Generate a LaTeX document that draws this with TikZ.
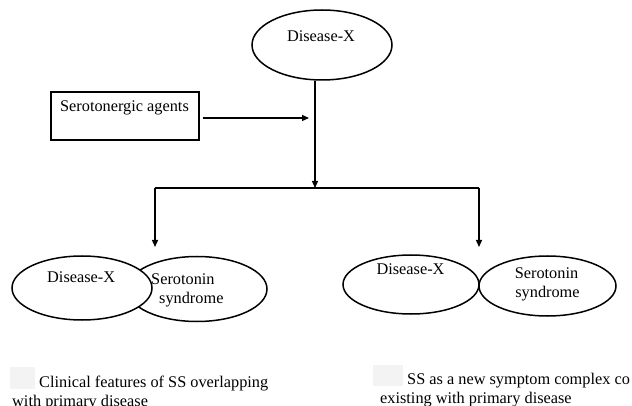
\documentclass[tikz,border=0pt]{standalone}
\usepackage{fontspec}
\setmainfont{Liberation Serif}
\usetikzlibrary{arrows.meta,calc,shapes.geometric}
\definecolor{ghost}{HTML}{F3F3F3}
\begin{document}
\begin{tikzpicture}[x=1pt,y=-1pt,
  ell/.style={draw,ellipse,line width=1.5pt,inner sep=0pt,fill=white},
  boxnode/.style={draw,rectangle,line width=1.2pt,inner sep=0pt,minimum width=148pt,minimum height=48pt},
  txt/.style={inner sep=0pt,font=\fontsize{16.3}{19.5}\selectfont},
  link/.style={line width=1.3pt},
  arr/.style={line width=1.3pt,-{Triangle[length=7pt,width=6pt]}},
  shade/.style={fill=ghost,draw=none}]
\useasboundingbox (0,0) rectangle (632,406);
\clip (0,0) rectangle (632,406);

% top
\node[ell,minimum width=140pt,minimum height=70pt] (top) at (322,45) {};
\node[txt,anchor=base] (toptxt) at (321,42) {Disease-X};

\node[boxnode] (box) at (125,116) {};
\node[txt,anchor=base] (boxtxt) at (124.5,112) {Serotonergic agents};

\coordinate (am) at (309,118);
\coordinate (j) at (315,188);
\coordinate (hl) at (155,188);
\coordinate (hr) at (479,188);
\coordinate (tl) at (155,247);
\coordinate (tr) at (479,247);

\draw[arr] (top.south -| j) -- (j);
\draw[arr] ([xshift=3pt]box.east |- am) -- (am);
\draw[link] (hl) -- (hr);
\draw[arr] (hl) -- (tl);
\draw[arr] (hr) -- (tr);

% left overlapping pair
\node[ell,minimum width=140pt,minimum height=65pt] (lb) at (197,289) {};
\node[ell,minimum width=140pt,minimum height=64pt] (la) at (82,288) {};
\node[txt,anchor=base west] (latxt) at (47,282) {Disease-X};
\node[txt,anchor=base west] (lbtxt1) at (151,284) {Serotonin};
\node[txt,anchor=base west] (lbtxt2) at (159,303) {syndrome};

% right touching pair
\node[ell,minimum width=136pt,minimum height=59pt] (rc) at (411,284.5) {};
\node[ell,minimum width=137pt,minimum height=60pt] (rd) at (547.5,286) {};
\node[txt,anchor=base] (rctxt) at (410.5,275) {Disease-X};
\node[txt,anchor=base] (rdtxt1) at (546.5,278) {Serotonin};
\node[txt,anchor=base] (rdtxt2) at (547.5,297) {syndrome};

% captions
\fill[shade] (10,367) rectangle (35,389);
\node[txt,anchor=base west] (c1a) at (39,387) {Clinical features of SS overlapping};
\node[txt,anchor=base west] (c1b) at (12,406) {with primary disease};
\fill[shade] (373,365) rectangle (403,386);
\node[txt,anchor=base west] (c2a) at (407,384) {SS as a new symptom complex co};
\node[txt,anchor=base west] (c2b) at (380,403) {existing with primary disease};
\end{tikzpicture}
\end{document}
